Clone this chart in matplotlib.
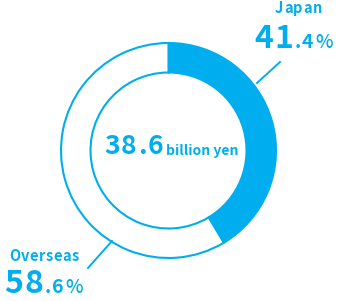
import matplotlib.pyplot as plt
from matplotlib import font_manager

# sales share by region
regions = ['Japan', 'Overseas']
shares = [41.4, 58.6]
total = 38.6
unit = 'billion yen'

cyan = '#00AEEF'
H = 301  # figure height in px, used to flip y for text placement

# pick a sans family that actually has a bold face installed
bold_fam = 'DejaVu Sans'
for name in ['Noto Sans CJK JP', 'Noto Sans', 'Open Sans', 'Lato', 'Roboto']:
    if any(f.name == name and str(f.weight) in ('bold', '700')
           for f in font_manager.fontManager.ttflist):
        bold_fam = name
        break
plt.rcParams['font.family'] = [bold_fam, 'DejaVu Sans']

fig = plt.figure(figsize=(3.4, 3.01), dpi=100)
ax = fig.add_axes([0, 0, 1, 1])

# donut: Japan filled, Overseas just outlined
ax.pie(shares, startangle=90, counterclock=False,
       colors=[cyan, 'white'], radius=107.5, center=(168.5, H - 150.5),
       wedgeprops=dict(width=29.5, edgecolor=cyan, linewidth=1.5))

ax.set_xlim(0, 340)
ax.set_ylim(0, H)
ax.axis('off')

# leader lines
ax.plot([257, 280], [H - 83, H - 62], color=cyan, lw=1.4)
ax.plot([88, 112], [H - 268, H - 241], color=cyan, lw=1.4)

renderer = fig.canvas.get_renderer()


def tracked(x, y, s, size, track, weight='bold'):
    # draw text char by char with extra letter spacing (px), returns end x
    for ch in s:
        if ch == ' ':
            x += size * 0.45
            continue
        t = ax.text(x, y, ch, fontsize=size, fontweight=weight, color=cyan,
                    ha='left', va='baseline')
        x = t.get_window_extent(renderer).x1 + track
    return x


def pct_label(x, y, value):
    whole, dec = f'{value:.1f}'.split('.')
    x = tracked(x, y, whole, 23, 1.3)
    x = tracked(x, y, '.' + dec, 14, 1.3)
    tracked(x + 0.5, y, '%', 13.5, 0, weight='medium')


# Japan
tracked(275, H - 13, regions[0], 10.5, 0.6)
pct_label(254, H - 48, shares[0])

# Overseas
tracked(9, H - 261, regions[1], 10.5, 0.6)
pct_label(4, H - 293, shares[1])

# centre total
x = tracked(104, H - 154.5, f'{total:.1f}', 19, 1.3)
ax.text(x + 1.5, H - 154.5, unit, fontsize=10, fontweight='bold', color=cyan,
        ha='left', va='baseline')

fig.savefig('out.png', dpi=100)
